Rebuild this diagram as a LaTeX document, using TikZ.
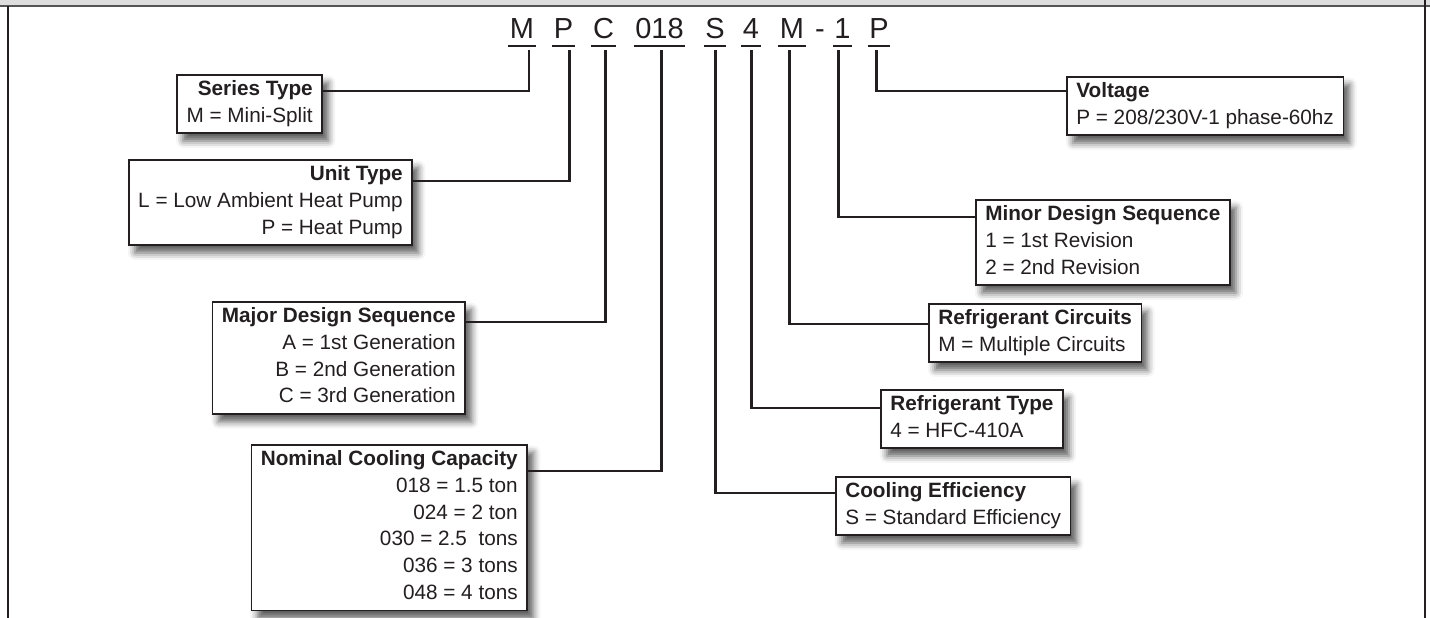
\documentclass[tikz,border=0pt]{standalone}
\usepackage{fontspec}
\setmainfont{Liberation Sans}
\usetikzlibrary{calc,shadows.blur}
\definecolor{inkgray}{HTML}{231F20}
\definecolor{bandgray}{HTML}{DEDEDE}
\definecolor{rulegray}{HTML}{555555}
\newcommand{\kstrut}{\rule[-0.2\baselineskip]{0pt}{\baselineskip}}

\begin{document}
\begin{tikzpicture}[x=0.02cm,y=-0.02cm,
    lead/.style={draw=inkgray,line width=1.7pt},
    codepart/.style={font=\fontsize{16.5}{18}\selectfont,text=inkgray,anchor=base,
      inner xsep=0.7pt,inner ysep=4pt,text depth=0pt},
    keybox/.style={draw=inkgray,line width=0.9pt,fill=white,text=inkgray,
      font=\fontsize{11.8}{15.3}\selectfont,inner xsep=5.4pt,inner ysep=3.1pt,
      execute at begin node=\kstrut,execute at end node=\kstrut,
      blur shadow={shadow xshift=3.5pt,shadow yshift=-4.5pt,shadow blur radius=4pt,shadow opacity=65}},
    leftbox/.style={keybox,align=right,anchor=north east},
    rightbox/.style={keybox,align=left,anchor=north west}]
  \useasboundingbox (0,0) rectangle (1430,618);
  % frame
  \fill[bandgray] (0,0) rectangle (1430,6);
  \draw[rulegray,line width=1.3pt] (0,6) -- (1430,6);
  \draw[inkgray,line width=1.2pt] (7.7,6) -- (7.7,618);
  \draw[inkgray,line width=1.2pt] (1425,0) -- (1425,618);
  % model number
  \node[codepart] (cSeries) at (522,39) {M};
  \node[codepart] (cUnit)   at (563.5,39) {P};
  \node[codepart] (cMajor)  at (603.5,39) {C};
  \node[codepart] (cCap)    at (659.5,39) {018};
  \node[codepart] (cEff)    at (715,39) {S};
  \node[codepart] (cRef)    at (751,39) {4};
  \node[codepart] (cCirc)   at (792,39) {M};
  \node[codepart] (cDash)   at (820,39) {-};
  \node[codepart] (cMinor)  at (842.5,39) {1};
  \node[codepart] (cVolt)   at (879,39) {P};
  \foreach \c in {cSeries,cUnit,cMajor,cCap,cEff,cRef,cCirc,cMinor,cVolt}
    {\draw[inkgray,line width=1pt] (\c.south west) -- (\c.south east);}
  % left keys
  \node[leftbox] (series) at (323,74) {\textbf{Series Type}\\M = Mini-Split};
  \node[leftbox] (unit) at (413,159) {\textbf{Unit Type}\\L = Low Ambient Heat Pump\\P = Heat Pump};
  \node[leftbox] (major) at (466,301)
    {\textbf{Major Design Sequence}\\A = 1st Generation\\B = 2nd Generation\\C = 3rd Generation};
  \node[leftbox] (cap) at (528,444)
    {\textbf{Nominal Cooling Capacity}\\018 = 1.5 ton\\024 = 2 ton\\030 = 2.5\ \ tons\\036 = 3 tons\\048 = 4 tons};
  % right keys
  \node[rightbox] (volt) at (1066,76) {\textbf{Voltage}\\P = 208/230V-1 phase-60hz};
  \node[rightbox] (minor) at (975,199) {\textbf{Minor Design Sequence}\\1 = 1st Revision\\2 = 2nd Revision};
  \node[rightbox] (circ) at (928,303) {\textbf{Refrigerant Circuits}\\M = Multiple Circuits};
  \node[rightbox] (reftype) at (880,389) {\textbf{Refrigerant Type}\\4 = HFC-410A};
  \node[rightbox] (eff) at (835,476) {\textbf{Cooling Efficiency}\\S = Standard Efficiency};
  % leads
  \draw[lead] ($(cSeries.south)+(7,4)$) |- ($(series.north east)+(0,17)$);
  \draw[lead] ($(cUnit.south)+(5.5,4)$) |- ($(unit.north east)+(0,22)$);
  \draw[lead] ($(cMajor.south)+(1.5,4)$) |- ($(major.north east)+(0,21)$);
  \draw[lead] ($(cCap.south)+(1.5,4)$) |- ($(cap.north east)+(0,27)$);
  \draw[lead] ($(cEff.south)+(0,4)$) |- ($(eff.north west)+(0,17)$);
  \draw[lead] ($(cRef.south)+(0,4)$) |- ($(reftype.north west)+(0,19)$);
  \draw[lead] ($(cCirc.south)+(-3,4)$) |- ($(circ.north west)+(0,21)$);
  \draw[lead] ($(cMinor.south)+(-4.5,4)$) |- ($(minor.north west)+(0,18)$);
  \draw[lead] ($(cVolt.south)+(-3,4)$) |- ($(volt.north west)+(0,15)$);
\end{tikzpicture}
\end{document}
